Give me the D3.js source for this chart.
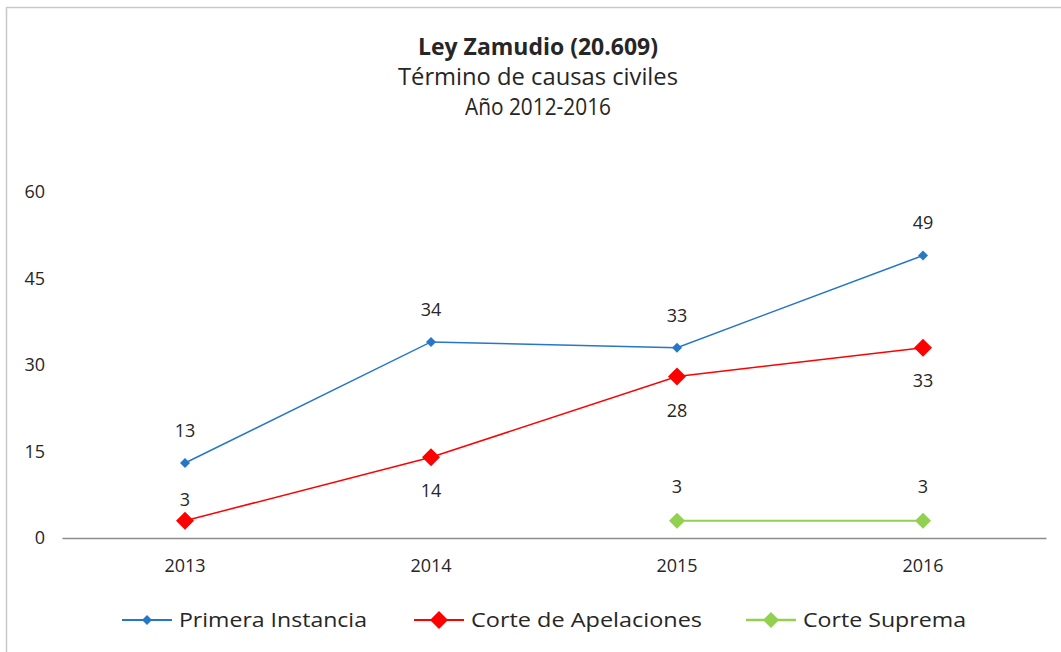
<!doctype html>
<meta charset="utf-8">
<title>Ley Zamudio</title>
<script src="https://cdn.jsdelivr.net/npm/d3@7"></script>
<style>
body { margin: 0; background: #fff; }
svg text { font-family: "Open Sans", "DejaVu Sans", sans-serif; fill: #262626; }
</style>
<svg id="chart" width="1061" height="652"></svg>
<script>
// data
var years = ["2013", "2014", "2015", "2016"];
var primera = [13, 34, 33, 49];
var apelaciones = [3, 14, 28, 33];
var suprema = [null, null, 3, 3];
var yTicks = [0, 15, 30, 45, 60];
var titleLines = ["Ley Zamudio (20.609)", "Término de causas civiles", "Año 2012-2016"];

var titleWidths = [240, 280, 146];
var series = [
  {name: "Primera Instancia", values: primera, color: "#2677C8", size: 5, width: 1.5, dy: [-32, -32, -32, -33], lw: 188},
  {name: "Corte de Apelaciones", values: apelaciones, color: "#FF0000", size: 9, width: 1.5, dy: [-21, 33, 34, 33], lw: 231},
  {name: "Corte Suprema", values: suprema, color: "#92D050", size: 8, width: 2, dy: [0, 0, -34, -34], lw: 163}
];

var svg = d3.select("#chart");

// frame (only top/left edges visible)
svg.append("rect")
  .attr("x", 6.5).attr("y", 7.5)
  .attr("width", 1100).attr("height", 700)
  .attr("fill", "none").attr("stroke", "#c8c8c8").attr("stroke-width", 1.5);

var x = d3.scaleBand().domain(years).range([62, 1046]).padding(0);
var y = d3.scaleLinear().domain([0, 60]).range([538, 192]);

// title
svg.selectAll("text.title").data(titleLines).enter().append("text")
  .attr("class", "title")
  .attr("x", 538).attr("y", function(d, i) { return 55 + i * 30; })
  .attr("text-anchor", "middle")
  .attr("textLength", function(d, i) { return titleWidths[i]; })
  .attr("lengthAdjust", "spacingAndGlyphs")
  .style("font-size", "23px")
  .style("font-weight", function(d, i) { return i === 0 ? "bold" : "normal"; })
  .text(function(d) { return d; });

// y axis labels, no line
var yAxis = svg.append("g").attr("transform", "translate(45,0)")
  .call(d3.axisLeft(y).tickValues(yTicks).tickSize(0).tickPadding(0));
yAxis.select(".domain").remove();
yAxis.selectAll("text").style("font-size", "18px").style("font-family", "'Open Sans', sans-serif").attr("fill", "#262626");

// x axis
var xAxis = svg.append("g").attr("transform", "translate(0,538)")
  .call(d3.axisBottom(x).tickSize(0).tickPadding(21));
xAxis.select(".domain").attr("stroke", "#8c8c8c").attr("stroke-width", 1.5);
xAxis.selectAll("text").style("font-size", "18px").style("font-family", "'Open Sans', sans-serif").attr("fill", "#262626");

var cx = function(i) { return x(years[i]) + x.bandwidth() / 2; };
var line = d3.line()
  .defined(function(d) { return d != null; })
  .x(function(d, i) { return cx(i); })
  .y(function(d) { return y(d); });

function diamond(s) {
  return "M0," + (-s) + "L" + s + ",0L0," + s + "L" + (-s) + ",0Z";
}

series.forEach(function(s) {
  var g = svg.append("g");
  g.append("path").datum(s.values)
    .attr("d", line)
    .attr("fill", "none").attr("stroke", s.color).attr("stroke-width", s.width);
  s.values.forEach(function(v, i) {
    if (v == null) return;
    g.append("path")
      .attr("transform", "translate(" + cx(i) + "," + y(v) + ")")
      .attr("d", diamond(s.size)).attr("fill", s.color);
    g.append("text")
      .attr("x", cx(i)).attr("y", y(v) + s.dy[i])
      .attr("dy", "0.35em").attr("text-anchor", "middle")
      .style("font-size", "18px")
      .text(v);
  });
});

// legend
var legendX = [122, 414, 746];
var legend = svg.append("g").attr("transform", "translate(0,620)");
series.forEach(function(s, i) {
  var lg = legend.append("g").attr("transform", "translate(" + legendX[i] + ",0)");
  lg.append("line").attr("x1", 0).attr("x2", 50)
    .attr("stroke", s.color).attr("stroke-width", s.width + 0.5);
  lg.append("path").attr("transform", "translate(25,0)")
    .attr("d", diamond(s.size)).attr("fill", s.color);
  lg.append("text").attr("x", 57).attr("dy", "0.35em")
    .attr("textLength", s.lw).attr("lengthAdjust", "spacingAndGlyphs")
    .style("font-size", "20px")
    .text(s.name);
});
</script>
